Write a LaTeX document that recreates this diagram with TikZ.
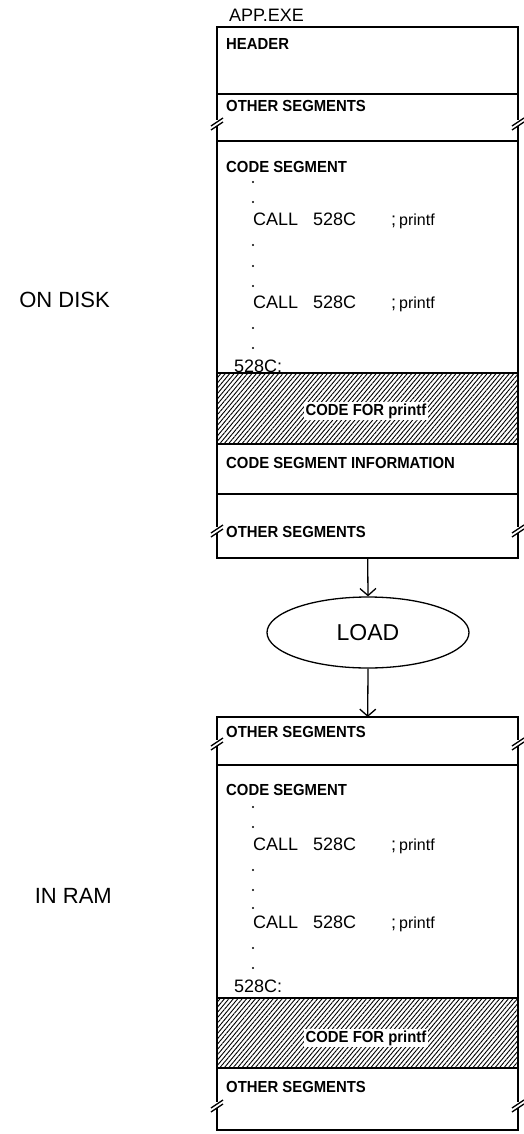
\documentclass[tikz,border=0pt]{standalone}
\usepackage{fontspec}
\setmainfont{Liberation Sans}
\newfontfamily\lblfont[FakeStretch=0.93]{Liberation Sans}
\usetikzlibrary{shapes.geometric,arrows.meta,patterns.meta}
\tikzset{
  edge/.style={line width=1.3pt},
  lbl/.style={anchor=base west,inner sep=0pt,font=\lblfont\bfseries\fontsize{16}{17}\selectfont},
  txt/.style={anchor=base west,inner sep=0pt,font=\fontsize{18}{20}\selectfont},
  side/.style={anchor=base east,inner sep=0pt,font=\fontsize{22}{24}\selectfont},
  dotn/.style={circle,fill,inner sep=0pt,minimum size=2.2pt},
  hatch/.style={pattern={Lines[angle=50,distance=3.4pt,line width=0.9pt]}},
  conn/.style={line width=1.3pt,-{Straight Barb[length=7pt,width=16pt,line width=1.3pt]}},
  brk/.pic={\draw[edge,fill=white,draw=white] (-1,-2) rectangle (1,2);
            \draw[edge] (-6,3) -- (6,-5) (-6,7) -- (6,-1);}
}
\begin{document}
\begin{tikzpicture}[x=1pt,y=-1pt]
\useasboundingbox (0,0) rectangle (524,1134);
% ---------- box 1 (on disk) ----------
\node[inner sep=0,minimum width=301pt,minimum height=531pt,anchor=north west] (box1) at (217,27) {};
\fill[hatch] (217,373) rectangle (518,444);
\draw[edge] (217,27) -- (518,27) -- (518,558) -- (217,558) -- cycle;
\foreach \yy in {94,141,373,444,494} \draw[edge] (217,\yy) -- (518,\yy);
\foreach \yy in {123,530} {\pic at (217,\yy) {brk}; \pic at (518,\yy) {brk};}
\node[txt,anchor=base west] (appexe) at (229,22) {APP.EXE};
\node[lbl] (hdr) at (226,50) {HEADER};
\node[lbl] (oth1) at (226,112) {OTHER SEGMENTS};
\node[lbl] (cs1) at (226,172) {CODE SEGMENT};
\foreach \yy [count=\i] in {182,202,245,266,286,328,348} \node[dotn] (d1\i) at (253,\yy) {};
\node[txt] (call1a) at (253,225) {CALL};
\node[txt] (call1b) at (313,225) {528C};
\node[txt] (call1c) at (391,225) {;\,\fontsize{16}{18}\selectfont printf};
\node[txt] (call2a) at (253,308) {CALL};
\node[txt] (call2b) at (313,308) {528C};
\node[txt] (call2c) at (391,308) {;\,\fontsize{16}{18}\selectfont printf};
\node[txt] (lab1) at (234,372) {528C:};
\node[lbl,anchor=base,fill=white,inner sep=1.5pt] (pf1) at (366,415) {CODE FOR printf};
\node[lbl] (csi) at (226,468) {CODE SEGMENT INFORMATION};
\node[lbl] (oth2) at (226,537) {OTHER SEGMENTS};
\node[side] (disk) at (110,307) {ON DISK};
% ---------- load ----------
\node[ellipse,draw,line width=1.3pt,minimum width=202pt,minimum height=71pt,inner sep=0pt,
      font=\fontsize{23}{25}\selectfont] (load) at (368,632.5) {LOAD};
% ---------- box 2 (in ram) ----------
\node[inner sep=0,minimum width=301pt,minimum height=413pt,anchor=north west] (box2) at (217,717) {};
\fill[hatch] (217,998) rectangle (518,1068);
\draw[edge] (217,717) -- (518,717) -- (518,1130) -- (217,1130) -- cycle;
\foreach \yy in {765,998,1068} \draw[edge] (217,\yy) -- (518,\yy);
\foreach \yy in {743,1105} {\pic at (217,\yy) {brk}; \pic at (518,\yy) {brk};}
\node[lbl] (oth3) at (226,737) {OTHER SEGMENTS};
\node[lbl] (cs2) at (226,795) {CODE SEGMENT};
\foreach \yy [count=\i] in {807,827,870,890,908,948,968} \node[dotn] (d2\i) at (253,\yy) {};
\node[txt] (call3a) at (253,850) {CALL};
\node[txt] (call3b) at (313,850) {528C};
\node[txt] (call3c) at (391,850) {;\,\fontsize{16}{18}\selectfont printf};
\node[txt] (call4a) at (253,928) {CALL};
\node[txt] (call4b) at (313,928) {528C};
\node[txt] (call4c) at (391,928) {;\,\fontsize{16}{18}\selectfont printf};
\node[txt] (lab2) at (234,992) {528C:};
\node[lbl,anchor=base,fill=white,inner sep=1.5pt] (pf2) at (366,1042) {CODE FOR printf};
\node[lbl] (oth4) at (226,1092) {OTHER SEGMENTS};
\node[side] (ram) at (112,903) {IN RAM};
% ---------- connectors ----------
\draw[conn] (box1.south) -- (load.north);
\draw[conn] (load.south) -- (box2.north);
\end{tikzpicture}
\end{document}
